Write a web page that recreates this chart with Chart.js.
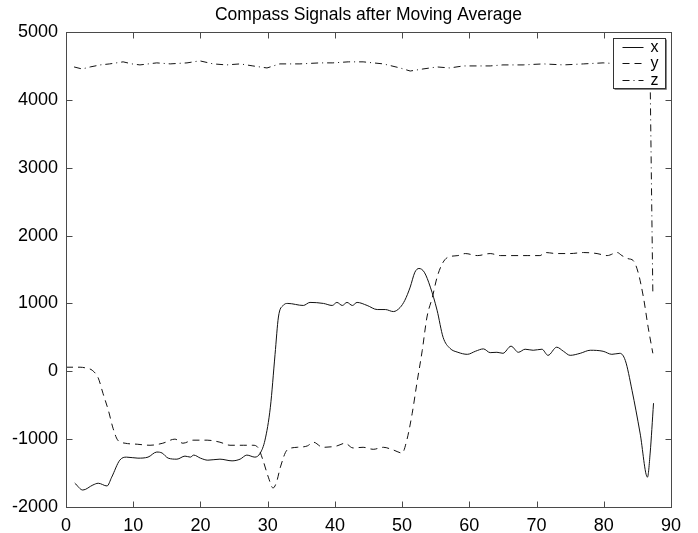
<!DOCTYPE html>
<html>
<head>
<meta charset="utf-8">
<title>Compass Signals after Moving Average</title>
<script src="https://cdn.jsdelivr.net/npm/chart.js@4"></script>
<style>
  html, body { margin: 0; padding: 0; background: #fff; }
  #wrap { width: 698px; height: 533px; position: relative; }
</style>
</head>
<body>
<div id="wrap"><canvas id="chart"></canvas></div>
<script>
// ------------------ Data ------------------
const TITLE = "Compass Signals after Moving Average";
const X_TICKS = [0, 10, 20, 30, 40, 50, 60, 70, 80, 90];
const Y_TICKS = [-2000, -1000, 0, 1000, 2000, 3000, 4000, 5000];

// serie x (linha cheia)
const xT = [1.3, 2.5, 4.0, 4.8, 6.1, 6.8, 8.0, 9.0, 10.7, 12.2, 13.5, 14.3, 15.2, 16.5, 17.7, 18.5, 19.0, 20.0,
  21.1, 22.9, 24.7, 25.9, 26.9, 28.1, 28.9, 29.6, 30.4, 31.1, 31.6, 32.3, 33.0, 35.3, 36.3, 38.3, 39.6, 40.3,
  41.1, 41.8, 42.6, 43.3, 44.8, 46.3, 47.5, 48.7, 49.7, 50.4, 51.2, 51.9, 52.5, 53.3, 54.2, 55.2, 56.1, 57.1,
  58.3, 59.7, 60.9, 62.1, 63.1, 64.1, 65.0, 66.2, 67.3, 68.3, 69.5, 70.8, 71.7, 73.0, 74.0, 75.0, 76.5, 78.0,
  79.9, 81.2, 82.4, 83.2, 84.2, 85.4, 86.5, 86.9, 87.4];
const xV = [-1647, -1750, -1676, -1650, -1690, -1560, -1310, -1265, -1280, -1265, -1190, -1205, -1280, -1295, -1250, -1265, -1235, -1280,
  -1310, -1295, -1320, -1295, -1235, -1265, -1205, -1015, -530, 250, 800, 970, 1000, 970, 1015, 1000, 970, 1015,
  970, 1015, 970, 1015, 970, 910, 910, 880, 940, 1045, 1240, 1460, 1515, 1460, 1240, 900, 500, 340,
  280, 250, 295, 330, 275, 280, 265, 370, 280, 325, 310, 325, 235, 355, 295, 235, 265, 310,
  295, 250, 265, 160, -280, -910, -1560, -1205, -470];

// serie y (tracejada)
const yT = [0, 2.1, 3.1, 3.9, 4.8, 5.5, 6.3, 7.0, 7.7, 8.8, 10.6, 12.5, 14.4, 16.2, 17.4, 18.9, 21.0, 22.9,
  24.4, 26.4, 27.8, 28.6, 29.3, 30.1, 30.8, 31.3, 31.9, 32.9, 34.4, 35.9, 36.8, 38.2, 40.3, 41.5, 42.7, 44.2,
  45.7, 47.2, 48.7, 50.0, 50.7, 51.5, 52.2, 53.0, 53.7, 54.5, 55.2, 56.0, 56.8, 58.3, 59.4, 61.2, 63.1, 64.6,
  66.5, 68.6, 70.5, 71.3, 73.0, 75.0, 77.0, 79.0, 80.5, 82.0, 82.7, 83.6, 84.4, 85.1, 85.9, 86.6, 87.3];
const yV = [60, 60, 45, 15, -100, -325, -575, -840, -1015, -1060, -1075, -1090, -1060, -1000, -1060, -1015, -1015, -1045,
  -1090, -1090, -1090, -1130, -1310, -1560, -1720, -1640, -1410, -1160, -1120, -1100, -1045, -1120, -1100, -1060, -1130, -1120,
  -1150, -1120, -1160, -1205, -1015, -620, -175, 310, 800, 1090, 1385, 1590, 1680, 1705, 1735, 1705, 1735, 1705,
  1705, 1705, 1705, 1750, 1735, 1735, 1750, 1735, 1705, 1750, 1705, 1660, 1630, 1460, 1090, 650, 265];

// serie z (traço-ponto)
const zT = [0, 0.02, 0.6, 1.2, 2.4, 3.6, 5.1, 6.5, 8.5, 9.8, 11.0, 13.5, 15.5, 18.0, 19.9, 21.9, 23.9, 25.9,
  27.8, 29.9, 31.8, 34.8, 37.8, 39.7, 42.0, 44.2, 47.2, 49.7, 51.2, 53.1, 55.2, 57.1, 59.1, 61.2, 63.1, 65.0,
  68.0, 71.0, 74.0, 77.0, 79.9, 82.5, 85.0, 86.7, 86.9, 87.1, 87.3];
const zV = [3750, 3570, null, 4485, 4455, 4485, 4515, 4530, 4560, 4530, 4515, 4545, 4530, 4545, 4575, 4530, 4515, 4530,
  4500, 4470, 4530, 4530, 4545, 4545, 4560, 4560, 4530, 4470, 4425, 4455, 4485, 4470, 4500, 4500, 4500, 4515,
  4515, 4530, 4515, 4530, 4545, 4530, 4530, 4530, 4300, 2700, 1150];

const LABELS = ["x", "y", "z"];

// ------------------ Style ------------------
const FONT = "'Liberation Sans', Arial, Helvetica, sans-serif";
const AXIS_COLOR = "#4a4a4a";
const LINE_COLOR = "#111";
const TICK_IN = 6;

const pts = (xs, ys) => xs.map((x, i) => ({ x, y: ys[i] }));

// ------------------ Plugin: titulo centrado na area do grafico ------------------
const titlePlugin = {
  id: "titlePlugin",
  afterDraw(chart) {
    const { ctx, chartArea: a } = chart;
    ctx.save();
    ctx.font = "17.5px " + FONT;
    ctx.fillStyle = "#000";
    ctx.textAlign = "center";
    ctx.textBaseline = "alphabetic";
    ctx.fillText(TITLE, (a.left + a.right) / 2, a.top - 12);
    ctx.restore();
  }
};

// ------------------ Plugin: moldura + ticks para dentro ------------------
const boxPlugin = {
  id: "boxPlugin",
  afterDatasetsDraw(chart) {
    const { ctx, chartArea: a, scales } = chart;
    const l = Math.round(a.left) + 0.5, r = Math.round(a.right) + 0.5;
    const t = Math.round(a.top) + 0.5, b = Math.round(a.bottom) + 0.5;
    ctx.save();
    ctx.strokeStyle = AXIS_COLOR;
    ctx.lineWidth = 1;
    ctx.setLineDash([]);
    ctx.strokeRect(l, t, r - l, b - t);
    ctx.beginPath();
    X_TICKS.forEach(v => {
      const px = Math.round(scales.x.getPixelForValue(v)) + 0.5;
      ctx.moveTo(px, b); ctx.lineTo(px, b - TICK_IN);
      ctx.moveTo(px, t); ctx.lineTo(px, t + TICK_IN);
    });
    Y_TICKS.forEach(v => {
      const py = Math.round(scales.y.getPixelForValue(v)) + 0.5;
      ctx.moveTo(l, py); ctx.lineTo(l + TICK_IN, py);
      ctx.moveTo(r, py); ctx.lineTo(r - TICK_IN, py);
    });
    ctx.stroke();
    ctx.restore();
  }
};

// ------------------ Plugin: legenda dentro da area ------------------
const legendPlugin = {
  id: "legendPlugin",
  afterDraw(chart) {
    const { ctx, chartArea: a } = chart;
    const w = 52, h = 50;
    const x0 = Math.round(a.right) - 58 + 0.5, y0 = Math.round(a.top) + 6 + 0.5;
    ctx.save();
    ctx.fillStyle = "#fff";
    ctx.fillRect(x0, y0, w, h);
    ctx.strokeStyle = "#333";
    ctx.lineWidth = 1;
    ctx.strokeRect(x0, y0, w, h);
    ctx.beginPath();
    ctx.moveTo(x0 + w + 1, y0 + 1); ctx.lineTo(x0 + w + 1, y0 + h + 1); ctx.lineTo(x0 + 1, y0 + h + 1);
    ctx.strokeStyle = "#888";
    ctx.stroke();
    ctx.font = "16px " + FONT;
    ctx.textBaseline = "middle";
    ctx.textAlign = "left";
    chart.data.datasets.forEach((ds, i) => {
      const yy = Math.round(y0 + 8 + i * 16.5) + 0.5;
      ctx.beginPath();
      ctx.setLineDash(ds.borderDash || []);
      ctx.strokeStyle = LINE_COLOR;
      ctx.moveTo(x0 + 9, yy); ctx.lineTo(x0 + 30, yy);
      ctx.stroke();
      ctx.setLineDash([]);
      ctx.fillStyle = "#000";
      ctx.fillText(ds.label, x0 + 37, yy);
    });
    ctx.restore();
  }
};

// ------------------ Build chart ------------------
function makeDataset(label, xs, ys, dash, smooth) {
  return {
    label,
    data: pts(xs, ys),
    borderColor: LINE_COLOR,
    borderWidth: 1,
    borderDash: dash,
    pointRadius: 0,
    fill: false,
    spanGaps: false,
    cubicInterpolationMode: smooth ? "monotone" : "default",
    tension: 0
  };
}

new Chart(document.getElementById("chart"), {
  type: "line",
  data: {
    datasets: [
      makeDataset(LABELS[0], xT, xV, [], true),
      makeDataset(LABELS[1], yT, yV, [7, 5], true),
      makeDataset(LABELS[2], zT, zV, [7, 4, 1, 4], false)
    ]
  },
  options: {
    responsive: true,
    maintainAspectRatio: false,
    animation: false,
    layout: { padding: { left: 0, right: 27, top: 32, bottom: 0 } },
    plugins: {
      legend: { display: false },
      tooltip: { enabled: false },
      title: { display: false }
    },
    scales: {
      x: {
        type: "linear",
        min: 0, max: 90,
        grid: { display: false, drawTicks: false },
        border: { display: false },
        afterBuildTicks: s => { s.ticks = X_TICKS.map(v => ({ value: v })); },
        afterFit: s => { s.height = 26; },
        ticks: { color: "#000", padding: 8, maxRotation: 0, font: { family: FONT, size: 18 },
          callback: v => String(v) }
      },
      y: {
        type: "linear",
        min: -2000, max: 5000,
        grid: { display: false, drawTicks: false },
        border: { display: false },
        afterBuildTicks: s => { s.ticks = Y_TICKS.map(v => ({ value: v })); },
        afterFit: s => { s.width = 66; },
        ticks: { color: "#000", padding: 8, font: { family: FONT, size: 18 },
          callback: v => String(v) }
      }
    }
  },
  plugins: [boxPlugin, legendPlugin, titlePlugin]
});
</script>
</body>
</html>
